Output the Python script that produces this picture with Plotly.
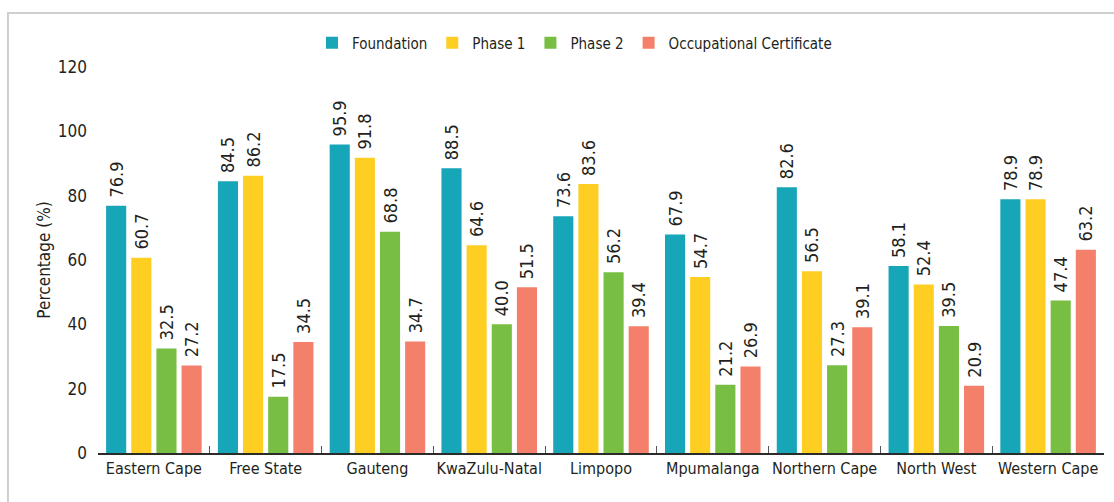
import plotly.graph_objects as go

provinces = ["Eastern Cape", "Free State", "Gauteng", "KwaZulu-Natal", "Limpopo",
             "Mpumalanga", "Northern Cape", "North West", "Western Cape"]
foundation = [76.9, 84.5, 95.9, 88.5, 73.6, 67.9, 82.6, 58.1, 78.9]
phase1 = [60.7, 86.2, 91.8, 64.6, 83.6, 54.7, 56.5, 52.4, 78.9]
phase2 = [32.5, 17.5, 68.8, 40.0, 56.2, 21.2, 27.3, 39.5, 47.4]
occupational = [27.2, 34.5, 34.7, 51.5, 39.4, 26.9, 39.1, 20.9, 63.2]
y_ticks = [0, 20, 40, 60, 80, 100, 120]

FONT = "DejaVu Sans Condensed, Liberation Sans Narrow, sans-serif"
INK = "#231F20"

series = [
    ("Foundation", foundation, "#17A5B8"),
    ("Phase 1", phase1, "#FFCE23"),
    ("Phase 2", phase2, "#78BE43"),
    ("Occupational Certificate", occupational, "#F4806B"),
]

fig = go.Figure()
for name, values, color in series:
    fig.add_trace(go.Bar(
        name=name, x=provinces, y=values,
        marker=dict(color=color, line=dict(width=0)),
        # a leading no-break space keeps the rotated value a little above the bar
        texttemplate="\u00a0%{y:.1f}", textposition="outside", textangle=-90,
        textfont=dict(family=FONT, size=18, color=INK),
        constraintext="none", cliponaxis=False,
    ))

# outer frame around the chart
fig.add_shape(type="rect", xref="paper", yref="paper",
              x0=-0.0895, x1=1.02, y0=-0.2, y1=1.1399,
              line=dict(color="#CFCFCF", width=2), fillcolor="rgba(0,0,0,0)", layer="below")

fig.update_layout(
    width=1114, height=502,
    margin=dict(l=98, r=10, t=67, b=49),
    paper_bgcolor="white", plot_bgcolor="white",
    barmode="group", bargap=0.1, bargroupgap=0.2,
    font=dict(family=FONT, color=INK, size=17),
    showlegend=True,
    legend=dict(orientation="h", x=0.2127, xanchor="left", y=1.062, yanchor="middle",
                font=dict(family=FONT, size=15, color=INK),
                itemsizing="constant", traceorder="normal", itemwidth=30),
    xaxis=dict(showgrid=False, showline=True, linecolor="#2B2B2B", linewidth=1.5,
               ticks="inside", tickson="boundaries", ticklen=7, tickcolor="#555555",
               tickangle=0, automargin=False,
               tickfont=dict(family=FONT, size=16, color=INK)),
    yaxis=dict(range=[0, 120], tickvals=y_ticks, showgrid=False, showline=False,
               zeroline=False, ticks="", ticklabelstandoff=10, automargin=False,
               tickfont=dict(family=FONT, size=17, color=INK),
               title=dict(text="Percentage (%)", standoff=2,
                          font=dict(family=FONT, size=17, color=INK))),
)

fig.write_html("out.html")
